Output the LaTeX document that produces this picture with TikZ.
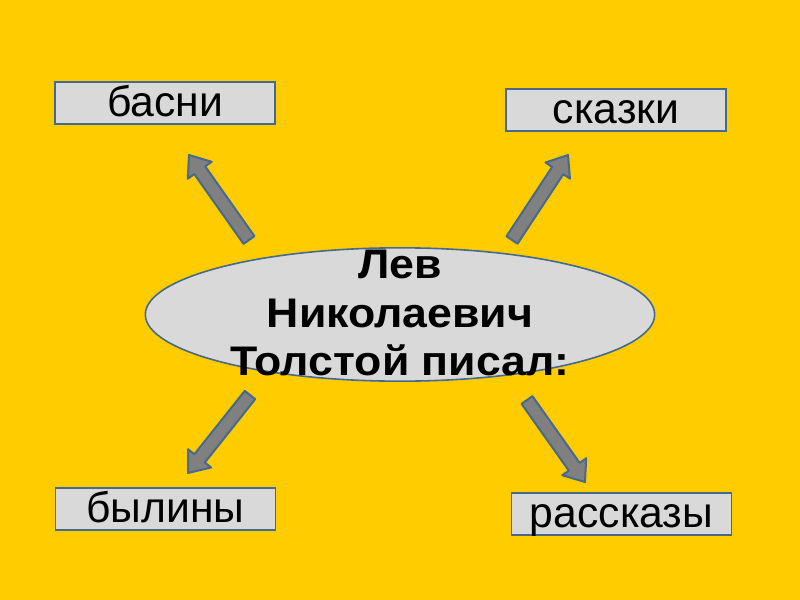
\documentclass[tikz,border=0pt]{standalone}
\usepackage{fontspec}
\setmainfont{Liberation Sans}
\newfontfamily\titlefont[FakeStretch=1.08]{Liberation Sans}
\usetikzlibrary{shapes.geometric,calc}
\definecolor{bg}{HTML}{FFCC00}
\definecolor{boxfill}{HTML}{D9D9D9}
\definecolor{edge}{HTML}{46698E}
\definecolor{arrfill}{HTML}{808080}
\newcommand{\blockarr}[2]{%
  \coordinate (#1hb) at ($(#2)!14pt!(#1)$);
  \draw[blockarrow] ($(#1)!5pt!90:(#2)$) -- ($(#1hb)!5pt!90:(#2)$) -- ($(#1hb)!11pt!90:(#2)$)
    -- (#2) -- ($(#1hb)!11pt!-90:(#2)$) -- ($(#1hb)!5pt!-90:(#2)$) -- ($(#1)!5pt!-90:(#2)$) -- cycle;}
\begin{document}
\begin{tikzpicture}[x=0.75pt,y=-0.75pt,
  genre/.style={draw=edge, line width=1.3pt, fill=boxfill, minimum width=165pt, minimum height=32pt,
    inner sep=0pt, font=\fontsize{32}{38}\selectfont, text height=20pt, text depth=0pt},
  blockarrow/.style={fill=arrfill, draw=edge, line width=1.5pt, line join=round},
  oval/.style={ellipse, draw=edge, line width=1.2pt, fill=boxfill, minimum width=382pt, minimum height=100pt, inner sep=0pt},
  title/.style={align=center, font=\titlefont\bfseries\fontsize{31}{36.5}\selectfont}]
\fill[bg] (0,0) rectangle (800,600);
\useasboundingbox (0,0) rectangle (800,600);
\node[genre] (basni) at (165,103) {басни};
\node[genre] (skazki) at (616,110) {сказки};
\node[genre] (byliny) at (165.5,509) {былины};
\node[genre] (rasskazy) at (621.5,514) {рассказы};
\coordinate (t1) at (249,240); \coordinate (p1) at (189,155);
\coordinate (t2) at (512,240); \coordinate (p2) at (568,155);
\coordinate (t3) at (250,395); \coordinate (p3) at (188,473);
\coordinate (t4) at (527,400); \coordinate (p4) at (585,482);
\blockarr{t1}{p1}
\blockarr{t2}{p2}
\blockarr{t3}{p3}
\blockarr{t4}{p4}
\node[oval] (ell) at (400,314.5) {};
\node[title] (name) at (400,313) {Лев\\Николаевич\\Толстой писал:};
\end{tikzpicture}
\end{document}
